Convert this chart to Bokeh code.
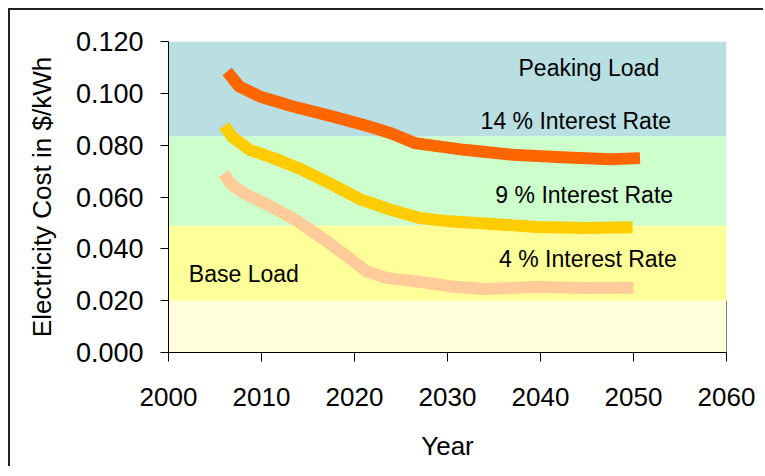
from bokeh.plotting import figure
from bokeh.models import Range1d, FixedTicker, PrintfTickFormatter
from bokeh.core.properties import value
from bokeh.embed import file_html
from bokeh.resources import INLINE

# ---- data ----
years_14 = [2006.3, 2007.6, 2009.8, 2013.4, 2017.6, 2021.6, 2024.0, 2026.5, 2031.8, 2037.0, 2042.3, 2047.5, 2050.7]
cost_14 = [0.1084, 0.1027, 0.0988, 0.0949, 0.0911, 0.0872, 0.0845, 0.0808, 0.0782, 0.0763, 0.0753, 0.0746, 0.0750]

years_9 = [2006.0, 2006.8, 2008.7, 2011.3, 2014.4, 2017.6, 2020.7, 2023.9, 2027.0, 2030.2, 2034.4, 2039.6, 2044.9, 2049.9]
cost_9 = [0.0875, 0.0834, 0.0782, 0.0750, 0.0705, 0.0648, 0.0590, 0.0551, 0.0519, 0.0506, 0.0497, 0.0484, 0.0480, 0.0483]

years_4 = [2005.9, 2006.8, 2008.1, 2011.3, 2013.9, 2016.5, 2019.2, 2021.3, 2023.4, 2026.5, 2030.2, 2033.9, 2039.6, 2044.9, 2050.0]
cost_4 = [0.0690, 0.0647, 0.0615, 0.0558, 0.0506, 0.0442, 0.0371, 0.0313, 0.0288, 0.0275, 0.0256, 0.0245, 0.0253, 0.0249, 0.0250]

band_bottoms = [0.0, 0.020, 0.049, 0.0834]
band_tops = [0.020, 0.049, 0.0834, 0.120]
band_colors = ["#FFFFDC", "#FFFF99", "#CCFFCC", "#BADFE2"]

label_texts = ["Peaking Load", "14 % Interest Rate", "9 % Interest Rate", "4 % Interest Rate", "Base Load"]
label_x = [2045.2, 2043.8, 2044.7, 2045.1, 2008.1]
label_y = [0.1097, 0.0894, 0.0609, 0.0359, 0.0301]

x_ticks = [2000, 2010, 2020, 2030, 2040, 2050, 2060]
y_ticks = [0.0, 0.02, 0.04, 0.06, 0.08, 0.10, 0.12]

FONT = "Liberation Sans"

p = figure(width=755, height=458, output_backend="svg", toolbar_location=None,
           x_range=Range1d(2000, 2060), y_range=Range1d(0, 0.12),
           min_border_left=158, min_border_top=31, min_border_right=39, min_border_bottom=116,
           styles={"margin-left": "8px", "margin-top": "8px",
                   "border-left": "2px solid #222", "border-top": "2px solid #222"})
p.background_fill_color = "white"
p.border_fill_color = "white"
p.outline_line_color = None
p.xgrid.visible = False
p.ygrid.visible = False

# background bands
p.quad(left=[x_ticks[0]] * 4, right=[x_ticks[-1]] * 4, bottom=band_bottoms, top=band_tops,
       fill_color=band_colors, line_color=None)
# right frame edge of the lowest band
p.segment(x0=[x_ticks[-1]], y0=[band_bottoms[0]], x1=[x_ticks[-1]], y1=[band_tops[0]],
          line_color="black", line_width=1)

# curves
p.line(years_14, cost_14, line_color="#FF6600", line_width=12, line_join="round", line_cap="butt")
p.line(years_9, cost_9, line_color="#FFCC00", line_width=12, line_join="round", line_cap="butt")
p.line(years_4, cost_4, line_color="#FFCC99", line_width=12, line_join="round", line_cap="butt")

# annotations
p.text(x=label_x, y=label_y, text=label_texts, text_font=value(FONT), text_font_size="23px",
       text_align="center", text_baseline="middle", text_color="black")

# axes
for ax in (p.xaxis, p.yaxis):
    ax.axis_line_color = "black"
    ax.major_tick_line_color = "black"
    ax.minor_tick_line_color = None
    ax.major_tick_in = 0
    ax.major_label_text_font = FONT
    ax.major_label_text_color = "black"
    ax.axis_label_text_font = FONT
    ax.axis_label_text_font_size = "26px"
    ax.axis_label_text_font_style = "normal"
    ax.axis_label_text_color = "black"

p.xaxis.major_label_text_font_size = "26px"
p.yaxis.major_label_text_font_size = "27px"
p.xaxis.ticker = FixedTicker(ticks=x_ticks)
p.yaxis.ticker = FixedTicker(ticks=y_ticks)
p.yaxis.formatter = PrintfTickFormatter(format="%.3f")
p.xaxis.major_tick_out = 9
p.yaxis.major_tick_out = 8
p.xaxis.major_label_standoff = 26
p.yaxis.major_label_standoff = 17
p.xaxis.axis_label = "Year"
p.yaxis.axis_label = "Electricity Cost in $/kWh"
p.xaxis.axis_label_standoff = 22
p.yaxis.axis_label_standoff = 16

html = file_html(p, INLINE)
open("out.html", "w").write(html)
